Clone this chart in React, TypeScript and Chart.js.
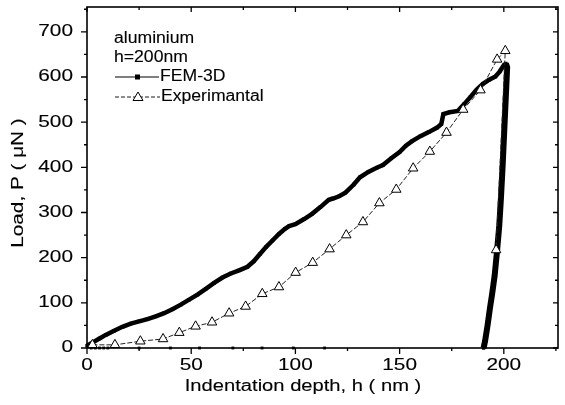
import React, { useEffect, useRef } from "react";
import { Chart, registerables } from "chart.js";

Chart.register(...registerables);

// ---- data ----
const femX = [0, 3, 6, 9, 13, 17, 21, 25, 29, 33, 37, 41, 45, 49, 53, 57, 61, 65, 69, 73, 77, 80, 83, 86, 89, 92, 95, 97, 100, 104, 108, 112, 116, 118, 121, 124, 128, 131, 135, 139, 142, 146, 150, 153, 156, 160, 164, 168, 170, 171, 174, 178, 181, 184, 187, 190, 193, 196, 198, 200, 201, 201.6, 201, 200.2, 199.4, 198.6, 197.8, 196.8, 195.6, 194.4, 193.4, 192.2, 191, 190.3];
const femY = [5, 13, 21, 29, 38, 47, 54, 59, 64, 70, 77, 86, 96, 107, 118, 131, 144, 156, 165, 172, 180, 192, 208, 224, 238, 252, 264, 270, 274, 285, 297, 312, 328, 331, 336, 344, 362, 378, 390, 399, 405, 420, 434, 448, 458, 469, 478, 488, 496, 518, 522, 525, 540, 556, 572, 585, 594, 601, 612, 626, 630, 622, 560, 480, 400, 330, 270, 217, 160, 120, 90, 50, 15, 0];
const femBaseX = [2, 4, 6, 8, 10, 25, 40, 54, 70, 84, 99, 114];
const femBaseY = [0, 0, 0, 0, 0, 0, 0, 0, 0, 0, 0, 0];
const expX = [2.6, 13.4, 25.6, 36.5, 44.3, 52.1, 60, 68.2, 76.1, 84.1, 92.1, 100.1, 108.3, 116.4, 124.4, 132.4, 140.3, 148.4, 156.5, 164.5, 172.5, 180.5, 188.8, 196.8, 200.7, 196.3];
const expY = [7, 7, 15, 20, 34, 48, 57, 77, 92, 120, 135, 167, 189, 219, 250, 279, 321, 351, 398, 435, 477, 528, 571, 639, 658, 217];

const xTicks = [0, 50, 100, 150, 200];
const xMinor = [25, 75, 125, 175, 225];
const yTicks = [0, 100, 200, 300, 400, 500, 600, 700];
const yMinor = [50, 150, 250, 350, 450, 550, 650, 750];

const legendTitle = ["aluminium", "h=200nm"];
const seriesNames = ["FEM-3D", "Experimantal"];
const xTitle = "Indentation depth, h ( nm )";
const yTitle = "Load, P ( \u03BCN )";

const FONT = "'Liberation Sans', Arial, sans-serif";
const UNLOAD_START = 60;

function stretchText(ctx: CanvasRenderingContext2D, text: string, x: number, y: number, sx: number, align: CanvasTextAlign, rot = 0) {
  ctx.save();
  ctx.translate(x, y);
  if (rot) ctx.rotate(rot);
  ctx.scale(sx, 1);
  ctx.textAlign = align;
  ctx.fillText(text, 0, 0);
  ctx.lineWidth = 0.12;
  ctx.strokeText(text, 0, 0);
  ctx.restore();
}

const framePlugin = {
  id: "originFrame",
  afterDraw(chart: any) {
    const ctx: CanvasRenderingContext2D = chart.ctx;
    const { left, right, top, bottom } = chart.chartArea;
    const xs = chart.scales.x;
    const ys = chart.scales.y;
    ctx.save();
    ctx.strokeStyle = "#000";
    ctx.fillStyle = "#000";
    ctx.lineWidth = 1.6;
    ctx.strokeRect(left, top, right - left, bottom - top);
    ctx.lineWidth = 1.3;
    ctx.beginPath();
    xTicks.forEach((v) => {
      const p = xs.getPixelForValue(v);
      ctx.moveTo(p, bottom); ctx.lineTo(p, bottom + 6);
      ctx.moveTo(p, top); ctx.lineTo(p, top + 5);
    });
    xMinor.forEach((v) => {
      if (v > xs.max) return;
      const p = xs.getPixelForValue(v);
      ctx.moveTo(p, bottom); ctx.lineTo(p, bottom + 3);
      ctx.moveTo(p, top); ctx.lineTo(p, top + 3);
    });
    yTicks.forEach((v) => {
      const p = ys.getPixelForValue(v);
      ctx.moveTo(left - 6, p); ctx.lineTo(left, p);
      ctx.moveTo(right, p); ctx.lineTo(right - 5, p);
    });
    yMinor.forEach((v) => {
      if (v > ys.max) return;
      const p = ys.getPixelForValue(v);
      ctx.moveTo(left - 3, p); ctx.lineTo(left, p);
      ctx.moveTo(right, p); ctx.lineTo(right - 3, p);
    });
    ctx.stroke();

    // tick labels
    ctx.font = `16px ${FONT}`;
    ctx.textBaseline = "middle";
    yTicks.forEach((v) => {
      stretchText(ctx, String(v), left - 14, ys.getPixelForValue(v), 1.3, "right");
    });
    ctx.textBaseline = "top";
    xTicks.forEach((v) => {
      stretchText(ctx, String(v), xs.getPixelForValue(v), bottom + 10, 1.3, "center");
    });

    // axis titles
    ctx.font = `16px ${FONT}`;
    ctx.textBaseline = "alphabetic";
    stretchText(ctx, xTitle, 303, 391, 1.26, "center");
    ctx.font = `17px ${FONT}`;
    ctx.textBaseline = "middle";
    stretchText(ctx, yTitle, 18, 183, 1.22, "center", -Math.PI / 2);

    // legend
    ctx.font = `16px ${FONT}`;
    ctx.textBaseline = "middle";
    stretchText(ctx, legendTitle[0], 114, 39, 1.1, "left");
    stretchText(ctx, legendTitle[1], 114, 58, 1.1, "left");
    // FEM sample
    ctx.lineWidth = 1.2;
    ctx.setLineDash([]);
    ctx.beginPath(); ctx.moveTo(115, 77); ctx.lineTo(159, 77); ctx.stroke();
    ctx.fillRect(135, 74.5, 5, 5);
    stretchText(ctx, seriesNames[0], 160, 77, 1.1, "left");
    // Experimental sample
    ctx.lineWidth = 0.9;
    ctx.setLineDash([4, 2]);
    ctx.beginPath(); ctx.moveTo(115, 97); ctx.lineTo(160, 97); ctx.stroke();
    ctx.setLineDash([]);
    ctx.fillStyle = "#fff";
    ctx.lineWidth = 1;
    ctx.beginPath();
    ctx.moveTo(138, 92); ctx.lineTo(143, 100.5); ctx.lineTo(133, 100.5); ctx.closePath();
    ctx.fill(); ctx.stroke();
    ctx.fillStyle = "#000";
    stretchText(ctx, seriesNames[1], 161, 97, 1.1, "left");
    ctx.restore();
  },
};

export default function App() {
  const ref = useRef<HTMLCanvasElement | null>(null);
  useEffect(() => {
    document.body.style.margin = "0";
    const canvas = ref.current;
    if (!canvas) return;
    const chart = new Chart(canvas, {
      type: "scatter",
      data: {
        datasets: [
          {
            label: seriesNames[1],
            data: expX.map((x, i) => ({ x, y: expY[i] })),
            showLine: true,
            borderColor: "#222",
            borderWidth: 1,
            borderDash: [5, 2],
            pointStyle: "triangle",
            pointRadius: 5.5,
            pointBackgroundColor: "#fff",
            pointBorderColor: "#000",
            pointBorderWidth: 1,
            clip: false,
          },
          {
            label: seriesNames[0],
            data: femX.map((x, i) => ({ x, y: femY[i] })),
            showLine: true,
            borderColor: "#000",
            borderWidth: 4.5,
            segment: {
              borderWidth: (c: any) => (c.p0DataIndex >= UNLOAD_START ? 6 : 4.5),
            },
            pointStyle: "rect",
            pointRadius: 2.4,
            pointBackgroundColor: "#000",
            pointBorderColor: "#000",
            pointBorderWidth: 0,
            clip: false,
          },
          {
            label: "FEM-3D base",
            data: femBaseX.map((x, i) => ({ x, y: femBaseY[i] })),
            showLine: false,
            pointStyle: "rect",
            pointRadius: 2,
            pointBackgroundColor: "#000",
            pointBorderWidth: 0,
            clip: false,
          },
        ],
      },
      options: {
        responsive: false,
        animation: false,
        layout: { padding: { left: 0, top: 7, right: 7, bottom: 0 } },
        plugins: { legend: { display: false }, tooltip: { enabled: false } },
        scales: {
          x: {
            type: "linear",
            min: 0,
            max: 226,
            ticks: { display: false, stepSize: 50 },
            grid: { display: false },
            border: { display: false },
            afterFit: (s: any) => { s.height = 57; },
          },
          y: {
            type: "linear",
            min: 0,
            max: 755,
            ticks: { display: false, stepSize: 100 },
            grid: { display: false },
            border: { display: false },
            afterFit: (s: any) => { s.width = 87; },
          },
        },
      },
      plugins: [framePlugin],
    });
    return () => chart.destroy();
  }, []);
  return (
    <div style={{ position: "absolute", left: 0, top: 0, width: 565, height: 405, background: "#fff" }}>
      <canvas ref={ref} width={565} height={405} />
    </div>
  );
}
